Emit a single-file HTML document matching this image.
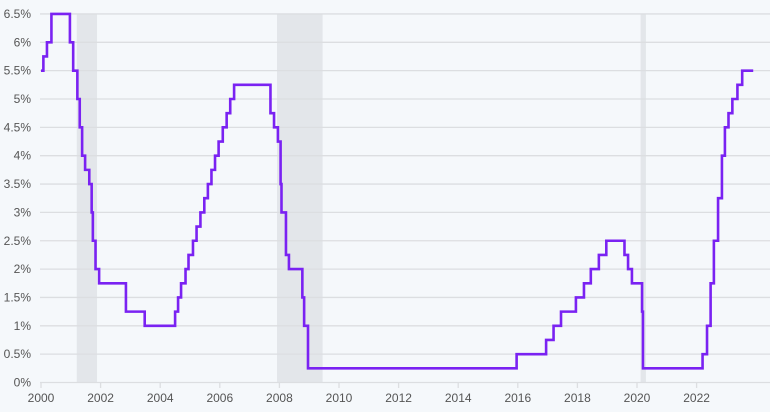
<!DOCTYPE html>
<html><head><meta charset="utf-8"><style>
html,body{margin:0;padding:0;background:#f5f8fb;}
svg{display:block;font-family:"Liberation Sans",sans-serif;}
</style></head><body>
<svg id="c" width="770" height="412" viewBox="0 0 770 412">
<rect width="770" height="412" fill="#f5f8fb"/>
<g id="rec" fill="#e3e6ea"></g>
<g id="grid" stroke="#dcdee1" stroke-width="1.3"></g>
<g id="yl" fill="#555" font-size="12" text-anchor="end"></g>
<g id="xl" fill="#555" font-size="12" text-anchor="middle"></g>
<path id="line" fill="none" stroke="#7a22f2" stroke-width="2.6" stroke-linejoin="miter"/>
</svg>
<script>
var NS="http://www.w3.org/2000/svg";
function X(t){return 41+29.8*(t-2000);}
function Y(r){return 382.5-r*56.7;}
function el(p,tag,a,txt){var e=document.createElementNS(NS,tag);for(var k in a)e.setAttribute(k,a[k]);if(txt!=null)e.textContent=txt;document.getElementById(p).appendChild(e);}
[[2001.2,2001.88],[2007.92,2009.45],[2020.12,2020.3]].forEach(function(r){el("rec","rect",{x:X(r[0]),y:Y(6.5),width:X(r[1])-X(r[0]),height:Y(0)-Y(6.5)});});
for(var i=0;i<=13;i++){var r=i*0.5;var y=Y(r);el("grid","line",{x1:40,x2:770,y1:y,y2:y});
var s=(r%1==0?r.toFixed(0):r.toFixed(1))+"%";el("yl","text",{x:31,y:y+4},s);}
for(var yr=2000;yr<=2022;yr+=2){var x=X(yr);el("grid","line",{x1:x,x2:x,y1:383,y2:388});el("xl","text",{x:x,y:402},yr);}
var d=[[2000.0,5.5],[2000.08,5.75],[2000.2,6.0],[2000.35,6.5],[2000.97,6.0],[2001.08,5.5],[2001.22,5.0],[2001.3,4.5],[2001.38,4.0],[2001.48,3.75],[2001.62,3.5],[2001.7,3.0],[2001.74,2.5],[2001.83,2.0],[2001.95,1.75],[2002.85,1.25],[2003.48,1.0],[2004.5,1.25],[2004.6,1.5],[2004.7,1.75],[2004.85,2.0],[2004.95,2.25],[2005.1,2.5],[2005.22,2.75],[2005.35,3.0],[2005.48,3.25],[2005.6,3.5],[2005.72,3.75],[2005.84,4.0],[2005.96,4.25],[2006.1,4.5],[2006.23,4.75],[2006.35,5.0],[2006.48,5.25],[2007.7,4.75],[2007.82,4.5],[2007.95,4.25],[2008.04,3.5],[2008.07,3.0],[2008.22,2.25],[2008.32,2.0],[2008.77,1.5],[2008.83,1.0],[2008.96,0.25],[2015.96,0.5],[2016.95,0.75],[2017.2,1.0],[2017.45,1.25],[2017.95,1.5],[2018.22,1.75],[2018.45,2.0],[2018.72,2.25],[2018.97,2.5],[2019.58,2.25],[2019.7,2.0],[2019.83,1.75],[2020.17,1.25],[2020.2,0.25],[2022.2,0.5],[2022.35,1.0],[2022.47,1.75],[2022.58,2.5],[2022.72,3.25],[2022.85,4.0],[2022.95,4.5],[2023.07,4.75],[2023.2,5.0],[2023.37,5.25],[2023.53,5.5]];
var p="M"+X(d[0][0])+" "+Y(d[0][1]);
for(var i=1;i<d.length;i++){p+=" H"+X(d[i][0]).toFixed(2)+" V"+Y(d[i][1]).toFixed(2);}
p+=" H"+X(2023.9);
document.getElementById("line").setAttribute("d",p);
</script>
</body></html>
